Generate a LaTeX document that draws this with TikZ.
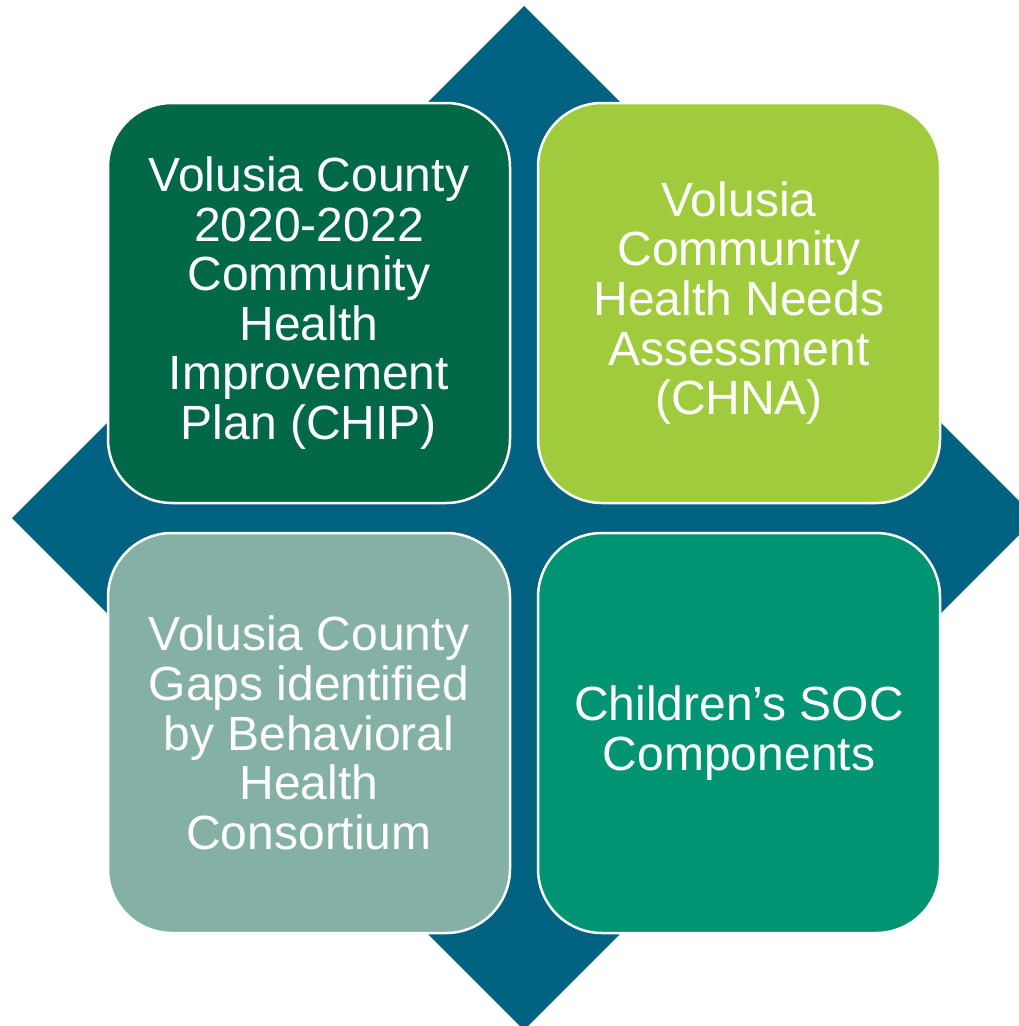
\documentclass[tikz,border=0pt]{standalone}
\usepackage{fontspec}
\setmainfont{Liberation Sans}
\usepackage{xcolor}
\usepackage{tikz}
\usetikzlibrary{shapes,positioning,calc}

\definecolor{diamondblue}{RGB}{0,98,128}
\definecolor{darkgreen}{RGB}{0,103,71}
\definecolor{limegreen}{RGB}{160,203,61}
\definecolor{sagegreen}{RGB}{133,176,165}
\definecolor{seagreen}{RGB}{0,148,114}

\tikzset{
    tile/.style={rectangle, draw=white, line width=2.5pt, rounded corners=64pt,
        minimum width=402pt, minimum height=400pt, text=white, align=center,
        font=\fontsize{48}{49.6}\selectfont}
}

\begin{document}
\begin{tikzpicture}[x=1pt,y=-1pt]
            \useasboundingbox (0,0) rectangle (1018,1026);
            % draw the blue diamond behind the tiles
            \fill[diamondblue] (524,6) -- (1036,518) -- (524,1030) -- (12,518) -- cycle;
            % draw the four tiles
            \node[tile, fill=darkgreen] (chip) at (309,303) {Volusia County\\2020-2022\\Community\\Health\\Improvement\\Plan (CHIP)};
            \node[tile, fill=limegreen] (chna) at (739,303) {Volusia\\Community\\Health Needs\\Assessment\\(CHNA)};
            \node[tile, fill=sagegreen] (gaps) at (309,733) {Volusia County\\Gaps identified\\by Behavioral\\Health\\Consortium};
            \node[tile, fill=seagreen] (soc) at (739,733) {Children’s SOC\\Components};
        \end{tikzpicture}
\end{document}
